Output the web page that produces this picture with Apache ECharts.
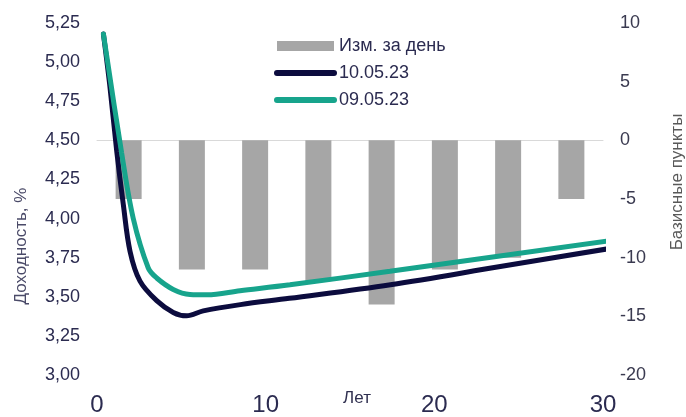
<!DOCTYPE html>
<html><head><meta charset="utf-8">
<script src="https://cdn.jsdelivr.net/npm/echarts@6/dist/echarts.min.js"></script>
<style>html,body{margin:0;padding:0;background:#fff}#c{width:686px;height:417px}</style>
</head><body><div id="c"></div>
<script>
// Daily change buckets (bps), drawn on a hidden category axis
const barCategories = ['B1','B2','B3','B4','B5','B6','B7','B8'];
const barValues = [-5, -11, -11, -12, -14, -11, -10, -5];
// Yield curves: [years, yield %]
const curve100523 = [[0.38,5.18],[0.77,4.84],[1.17,4.43],[1.56,4.09],[1.96,3.79],[2.55,3.60],[3.54,3.475],[4.52,3.40],[5.31,3.378],[6.3,3.41],[8.5,3.45],[11.4,3.49],[17.4,3.577],[24,3.695],[30.2,3.805]];
const curve090523 = [[0.38,5.18],[1.46,4.42],[2.15,4.00],[3.04,3.684],[3.54,3.62],[4.52,3.547],[5.51,3.515],[6.52,3.513],[8.48,3.539],[11.44,3.577],[17.37,3.663],[30.2,3.855]];
const seriesNames = ['Изм. за день', '10.05.23', '09.05.23'];
const xTicks = {min: 0, max: 30, interval: 10};
const leftTicks = {min: 3, max: 5.25, interval: 0.25};
const rightTicks = {min: -20, max: 10, interval: 5};

const FONT = 'Liberation Sans';
const chart = echarts.init(document.getElementById('c'), null, {renderer: 'canvas'});
chart.setOption({
  animation: false,
  textStyle: {fontFamily: FONT},
  grid: {left: 97, right: 83, top: 23, bottom: 40},
  legend: {
    orient: 'vertical', left: 274, top: 36, padding: 0,
    itemWidth: 57, itemHeight: 10, itemGap: 7,
    textStyle: {fontSize: 18, color: '#2b2b50', lineHeight: 20, fontFamily: FONT},
    lineStyle: {width: 6, cap: 'round'},
    data: [
      {name: seriesNames[0], icon: 'rect'},
      {name: seriesNames[1], itemStyle: {opacity: 0}},
      {name: seriesNames[2], itemStyle: {opacity: 0}}
    ]
  },
  xAxis: [
    {type: 'value', min: xTicks.min, max: xTicks.max, interval: xTicks.interval,
     axisLine: {show: true, lineStyle: {color: '#d9d9d9', width: 1}},
     axisTick: {show: false}, splitLine: {show: false},
     axisLabel: {fontSize: 24, color: '#2b2b50', margin: 18}},
    {type: 'category', data: barCategories, show: false, boundaryGap: true}
  ],
  yAxis: [
    {type: 'value', min: leftTicks.min, max: leftTicks.max, interval: leftTicks.interval, position: 'left',
     axisLine: {show: false}, axisTick: {show: false}, splitLine: {show: false},
     axisLabel: {fontSize: 18, color: '#2b2b50', margin: 17,
       formatter: v => v.toFixed(2).replace('.', ',')}},
    {type: 'value', min: rightTicks.min, max: rightTicks.max, interval: rightTicks.interval, position: 'right',
     axisLine: {show: false}, axisTick: {show: false}, splitLine: {show: false},
     axisLabel: {fontSize: 18, color: '#3a3a50', margin: 17}}
  ],
  series: [
    {name: seriesNames[0], type: 'bar', xAxisIndex: 1, yAxisIndex: 1, data: barValues,
     barWidth: 26, itemStyle: {color: '#a6a6a6'}, z: 1},
    {name: seriesNames[1], type: 'line', xAxisIndex: 0, yAxisIndex: 0, data: curve100523,
     symbol: 'none', smooth: 0.35,
     lineStyle: {width: 5, color: '#0c0c3e', cap: 'round'}, itemStyle: {color: '#0c0c3e'}, z: 3},
    {name: seriesNames[2], type: 'line', xAxisIndex: 0, yAxisIndex: 0, data: curve090523,
     symbol: 'none', smooth: 0.35,
     lineStyle: {width: 5, color: '#17a48c', cap: 'round'}, itemStyle: {color: '#17a48c'}, z: 4}
  ],
  graphic: [
    {type: 'text', x: 21, y: 246, rotation: Math.PI / 2,
     style: {text: 'Доходность, %', fontSize: 17, fill: '#4a4a68', align: 'center', verticalAlign: 'middle', fontFamily: FONT}},
    {type: 'text', x: 677, y: 182, rotation: Math.PI / 2,
     style: {text: 'Базисные пункты', fontSize: 17, fill: '#595959', align: 'center', verticalAlign: 'middle', fontFamily: FONT}},
    {type: 'text', x: 357, y: 398,
     style: {text: 'Лет', fontSize: 17, fill: '#303050', align: 'center', verticalAlign: 'middle', fontFamily: FONT}}
  ]
});
</script></body></html>
